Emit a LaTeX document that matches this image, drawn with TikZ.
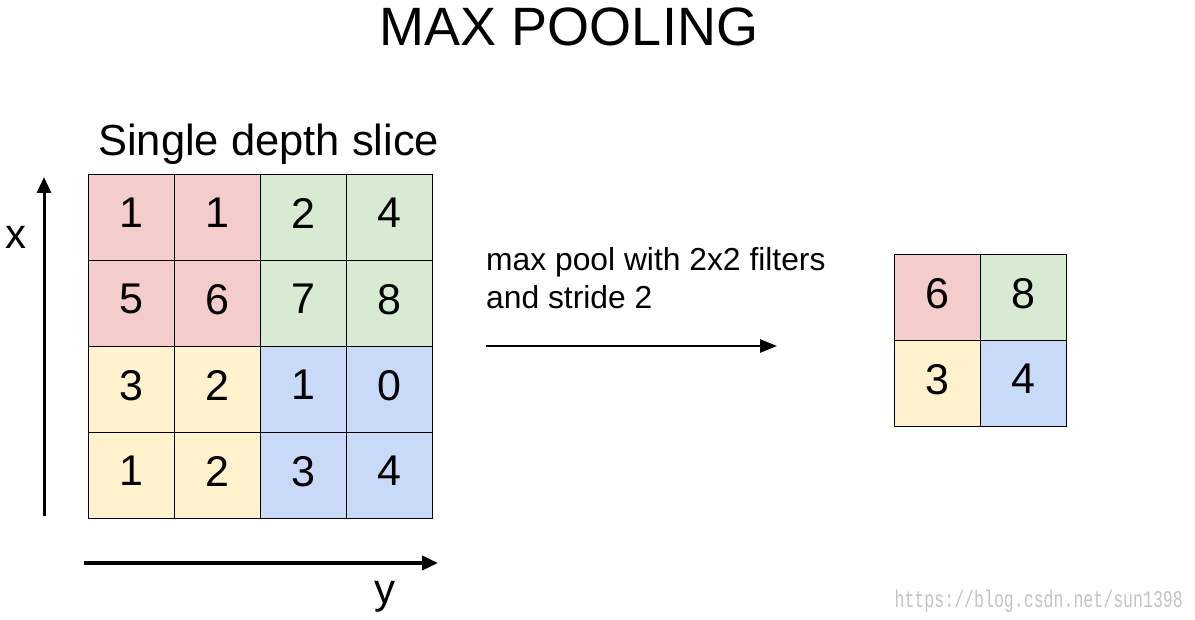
\documentclass[tikz,border=0pt]{standalone}
\usepackage{fontspec}
\setmainfont{Liberation Sans}
\newfontfamily\wmfont{Liberation Mono}
\usetikzlibrary{arrows.meta}
\definecolor{cred}{HTML}{F4CCCC}
\definecolor{cgreen}{HTML}{D9EAD3}
\definecolor{cyellow}{HTML}{FFF2CC}
\definecolor{cblue}{HTML}{C9DAF8}
\definecolor{wmgray}{HTML}{C4C4C4}
\tikzset{
  cell/.style={draw=black, line width=0.9pt, minimum size=86pt, inner sep=0pt, text depth=8pt, font=\fontsize{43}{43}\selectfont},
  axis/.style={line width=3pt, -{Triangle[length=16pt,width=14pt]}},
  lbl/.style={inner sep=0pt, font=\fontsize{42}{42}\selectfont}
}
\begin{document}
\begin{tikzpicture}[x=1pt,y=-1pt]
\useasboundingbox[fill=white] (0,0) rectangle (1195,620);
\node[inner sep=0pt, font=\fontsize{54}{54}\selectfont] (title) at (569,27) {MAX POOLING};
\node[inner sep=0pt, anchor=base west, font=\fontsize{43.5}{43.5}\selectfont] (slice) at (98,156) {Single depth slice};
% input grid
\node[cell, fill=cred] (a11) at (131,217) {1};
\node[cell, fill=cred] (a12) at (217,217) {1};
\node[cell, fill=cgreen] (a13) at (303,217) {2};
\node[cell, fill=cgreen] (a14) at (389,217) {4};
\node[cell, fill=cred] (a21) at (131,303) {5};
\node[cell, fill=cred] (a22) at (217,303) {6};
\node[cell, fill=cgreen] (a23) at (303,303) {7};
\node[cell, fill=cgreen] (a24) at (389,303) {8};
\node[cell, fill=cyellow] (a31) at (131,389) {3};
\node[cell, fill=cyellow] (a32) at (217,389) {2};
\node[cell, fill=cblue] (a33) at (303,389) {1};
\node[cell, fill=cblue] (a34) at (389,389) {0};
\node[cell, fill=cyellow] (a41) at (131,475) {1};
\node[cell, fill=cyellow] (a42) at (217,475) {2};
\node[cell, fill=cblue] (a43) at (303,475) {3};
\node[cell, fill=cblue] (a44) at (389,475) {4};
% output grid
\node[cell, fill=cred] (b11) at (937,297) {6};
\node[cell, fill=cgreen] (b12) at (1023,297) {8};
\node[cell, fill=cyellow] (b21) at (937,383) {3};
\node[cell, fill=cblue] (b22) at (1023,383) {4};
% axes
\coordinate (xs) at (44,516);
\coordinate (xe) at (44,177);
\coordinate (ys) at (84,563);
\coordinate (ye) at (438,563);
\draw[axis] (xs) -- (xe);
\draw[axis, line width=3.6pt] (ys) -- (ye);
\node[lbl] (xl) at (16,237) {x};
\node[lbl] (yl) at (385,597) {y};
% middle arrow
\node[inner sep=0pt, anchor=base west, font=\fontsize{31.8}{31.8}\selectfont] (desc) at (486,271) {max pool with 2x2 filters};
\node[inner sep=0pt, anchor=base west, font=\fontsize{31.8}{31.8}\selectfont] (desc2) at (486,309) {and stride 2};
\coordinate (ms) at (486,346);
\coordinate (me) at (777,346);
\draw[line width=2.6pt, -{Triangle[length=17pt,width=13pt]}] (ms) -- (me);
% watermark
\node[inner sep=0pt, anchor=base east, text=wmgray, xscale=0.69, font=\wmfont\fontsize{24}{24}\selectfont] (wm) at (1183,607) {https://blog.csdn.net/sun1398};
\end{tikzpicture}
\end{document}
